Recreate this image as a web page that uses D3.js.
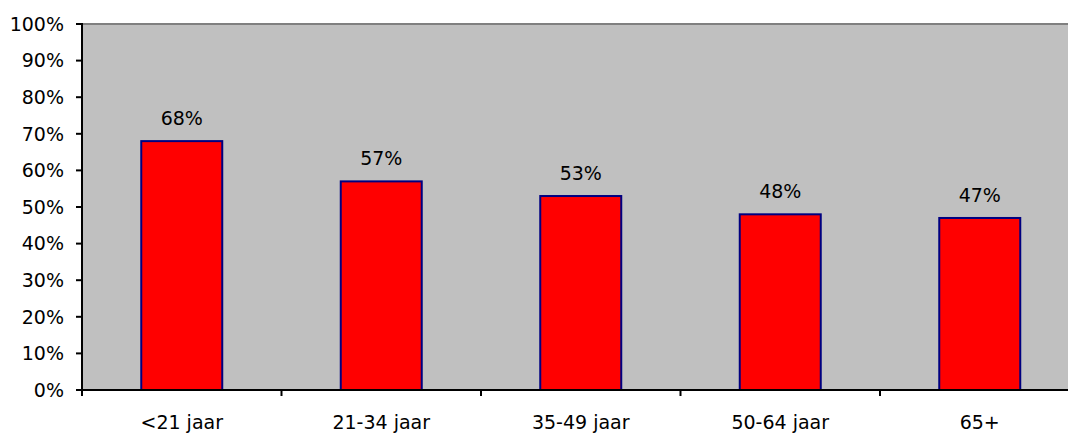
<!DOCTYPE html>
<html>
<head>
<meta charset="utf-8">
<script src="https://cdn.jsdelivr.net/npm/d3@7"></script>
<style>
  html, body { margin: 0; padding: 0; background: #fff; }
  svg { display: block; font-family: "DejaVu Sans", Verdana, sans-serif; }
</style>
</head>
<body>
<svg id="chart" width="1068" height="433"></svg>
<script>
// Age groups and share per group
const categories = ["<21 jaar", "21-34 jaar", "35-49 jaar", "50-64 jaar", "65+"];
const values = [68, 57, 53, 48, 47];
const yTicks = [0, 10, 20, 30, 40, 50, 60, 70, 80, 90, 100];
const yTickLabels = yTicks.map(v => v + "%");

const plotLeft = 82, plotRight = 1079.5, plotTop = 24, plotBottom = 390;
const fontSize = 19;

const svg = d3.select("#chart");

const x = d3.scaleBand()
  .domain(categories)
  .range([plotLeft, plotRight])
  .paddingInner(0.594)
  .paddingOuter(0.297);

const y = d3.scaleLinear().domain([0, 100]).range([plotBottom, plotTop]);

// plot background
svg.append("rect")
  .attr("x", plotLeft).attr("y", plotTop)
  .attr("width", plotRight - plotLeft).attr("height", plotBottom - plotTop)
  .attr("fill", "#c0c0c0");

// top border of plot area
svg.append("line")
  .attr("x1", plotLeft).attr("x2", plotRight)
  .attr("y1", plotTop).attr("y2", plotTop)
  .attr("stroke", "#808080").attr("stroke-width", 2);

// bars
svg.selectAll("rect.bar")
  .data(values)
  .join("rect")
  .attr("class", "bar")
  .attr("x", (d, i) => x(categories[i]))
  .attr("y", d => y(d))
  .attr("width", x.bandwidth())
  .attr("height", d => y(0) - y(d))
  .attr("fill", "#ff0000")
  .attr("stroke", "#000080")
  .attr("stroke-width", 2);

// value labels
svg.selectAll("text.val")
  .data(values)
  .join("text")
  .attr("class", "val")
  .attr("x", (d, i) => x(categories[i]) + x.bandwidth() / 2)
  .attr("y", d => y(d) - 16)
  .attr("text-anchor", "middle")
  .attr("font-size", fontSize)
  .attr("fill", "#000")
  .text(d => d + "%");

// y axis
const yAxis = svg.append("g");
yAxis.append("line")
  .attr("x1", plotLeft).attr("x2", plotLeft)
  .attr("y1", plotTop - 1).attr("y2", plotBottom + 1)
  .attr("stroke", "#000").attr("stroke-width", 2);
yAxis.selectAll("line.tick")
  .data(yTicks)
  .join("line")
  .attr("class", "tick")
  .attr("x1", plotLeft - 6).attr("x2", plotLeft)
  .attr("y1", d => y(d)).attr("y2", d => y(d))
  .attr("stroke", "#000").attr("stroke-width", 2);
yAxis.selectAll("text")
  .data(yTicks)
  .join("text")
  .attr("x", 64)
  .attr("y", d => y(d))
  .attr("dy", "0.36em")
  .attr("text-anchor", "end")
  .attr("font-size", fontSize)
  .text((d, i) => yTickLabels[i]);

// x axis
const xAxis = svg.append("g");
xAxis.append("line")
  .attr("x1", plotLeft - 6).attr("x2", plotRight)
  .attr("y1", plotBottom).attr("y2", plotBottom)
  .attr("stroke", "#000").attr("stroke-width", 2);
const step = x.step();
const boundaries = d3.range(categories.length + 1).map(i => plotLeft + i * step);
xAxis.selectAll("line.tick")
  .data(boundaries)
  .join("line")
  .attr("class", "tick")
  .attr("x1", d => d).attr("x2", d => d)
  .attr("y1", plotBottom).attr("y2", plotBottom + 6)
  .attr("stroke", "#000").attr("stroke-width", 2);
xAxis.selectAll("text")
  .data(categories)
  .join("text")
  .attr("x", d => x(d) + x.bandwidth() / 2)
  .attr("y", 429)
  .attr("text-anchor", "middle")
  .attr("font-size", fontSize)
  .text(d => d);
</script>
</body>
</html>
